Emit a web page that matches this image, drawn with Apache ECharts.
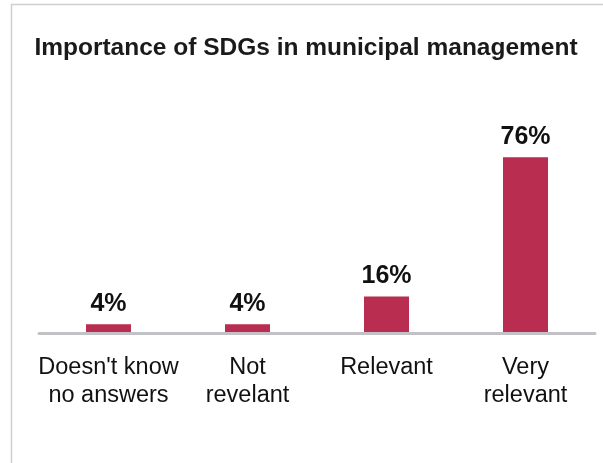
<!DOCTYPE html>
<html>
<head>
<meta charset="utf-8">
<script src="https://cdn.jsdelivr.net/npm/echarts@6/dist/echarts.min.js"></script>
<style>
  html, body { margin: 0; padding: 0; background: #fff; }
  #main { width: 603px; height: 463px; }
</style>
</head>
<body>
<div id="main"></div>
<script>
// answers, share of municipalities (%)
const categories = ["Doesn't know\nno answers", 'Not\nrevelant', 'Relevant', 'Very\nrelevant']
const shares = [4, 4, 16, 76]

const chart = echarts.init(document.getElementById('main'))

chart.setOption({
  animation: false,
  title: {
    text: 'Importance of SDGs in municipal management',
    left: 301,
    textAlign: 'center',
    top: 31,
    textStyle: {
      fontFamily: 'Liberation Sans',
      fontWeight: 'bold',
      fontSize: 24.5,
      color: '#1a1a1a'
    }
  },
  // frame lines of the original slide
  graphic: [
    { type: 'line', shape: { x1: 11.5, y1: 4, x2: 11.5, y2: 463 }, style: { stroke: '#cfcfcf', lineWidth: 1.5 } },
    { type: 'line', shape: { x1: 11, y1: 4.5, x2: 603, y2: 4.5 }, style: { stroke: '#cfcfcf', lineWidth: 1.5 } }
  ],
  grid: {
    left: 39,
    right: 8,
    top: 101.5,
    bottom: 129.5
  },
  xAxis: {
    type: 'category',
    data: categories,
    z: 3,
    axisLine: { lineStyle: { color: '#c2c2c6', width: 3 } },
    axisTick: { show: false },
    axisLabel: {
      interval: 0,
      margin: 20,
      fontFamily: 'Liberation Sans',
      fontSize: 23.5,
      lineHeight: 28,
      color: '#111'
    }
  },
  yAxis: {
    type: 'value',
    min: 0,
    max: 100,
    show: false
  },
  series: [
    {
      type: 'bar',
      data: shares,
      barWidth: 45,
      itemStyle: { color: '#b92d50' },
      label: {
        show: true,
        position: 'top',
        distance: 8,
        formatter: '{c}%',
        fontFamily: 'Liberation Sans',
        fontWeight: 'bold',
        fontSize: 25,
        color: '#111'
      }
    }
  ]
})
</script>
</body>
</html>
